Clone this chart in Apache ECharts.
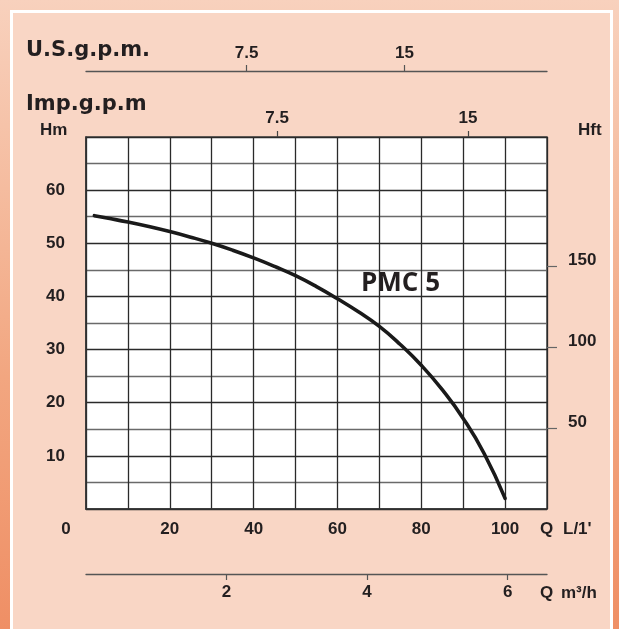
<!DOCTYPE html>
<html><head><meta charset="utf-8">
<script src="https://cdn.jsdelivr.net/npm/echarts@6/dist/echarts.min.js"></script>
<style>
html,body{margin:0;padding:0;width:619px;height:629px;overflow:hidden;
background:linear-gradient(to bottom,#f8d1bd 0%,#f5bc9f 30%,#f2a680 60%,#ef8f65 100%);}
#frame{position:absolute;left:10px;top:10px;width:603px;height:660px;box-sizing:border-box;border:3px solid #ffffff;background:#f9d6c5;}
#chart{position:absolute;left:0;top:0;width:619px;height:629px;}
</style></head>
<body>
<div id="frame"></div>
<div id="chart"></div>
<script>
// ---- data ----
const flowLpm = [2, 5, 10, 15, 20, 25, 30, 35, 40, 45, 50, 55, 60, 65, 70, 75, 80, 85, 90, 95, 100];
const headM   = [55.2, 54.75, 54.0, 53.15, 52.2, 51.15, 50.0, 48.7, 47.25, 45.65, 43.9, 41.85, 39.55, 37.1, 34.35, 30.95, 27.05, 22.45, 17.05, 10.45, 2.0];
const xLabelVals = [0, 20, 40, 60, 80, 100];
const yLabelVals = [10, 20, 30, 40, 50, 60];
const hftVals = [50, 100, 150];
const usGpmVals = [7.5, 15];
const impGpmVals = [7.5, 15];
const m3hVals = [2, 4, 6];
const seriesName = 'PMC 5';

const NARROW = "'Liberation Sans',Arial,sans-serif";
const WIDE = "'DejaVu Sans',sans-serif";
const TXT = '#231f20';
const lbl = {fontFamily: NARROW, fontSize: 17, fontWeight: 'bold', color: TXT};

const chart = echarts.init(document.getElementById('chart'), null, {renderer: 'canvas'});
const gridLine = {show: true, lineStyle: {color: '#2a2a2a', width: 1.3}};
const option = {
  animation: false,
  backgroundColor: 'transparent',
  grid: {left: 86, top: 137, width: 461, height: 372, show: true, backgroundColor: '#ffffff', borderColor: '#444', borderWidth: 1.5},
  xAxis: [
    {type: 'value', position: 'bottom', min: 0, max: 110, interval: 10,
     axisLine: {show: true, onZero: false, lineStyle: {color: '#333', width: 1.5}}, axisTick: {show: false},
     splitLine: gridLine,
     axisLabel: Object.assign({customValues: xLabelVals, margin: 12,
       formatter: v => v === 0 ? '{z|0}' : String(v),
       rich: {z: Object.assign({padding: [0, 40, 0, 0]}, lbl)}}, lbl)},
    {type: 'value', position: 'top', min: 0, max: 18.1,
     axisLine: {show: false, onZero: false}, splitLine: {show: false},
     axisTick: {show: true, customValues: impGpmVals, length: 6, lineStyle: {color: '#444', width: 1.2}},
     axisLabel: Object.assign({customValues: impGpmVals, margin: 10}, lbl)},
    {type: 'value', position: 'top', offset: 66, min: -0.14, max: 21.78,
     axisLine: {show: true, onZero: false, lineStyle: {color: '#555', width: 1.3}}, splitLine: {show: false},
     axisTick: {show: true, customValues: usGpmVals, length: 6, lineStyle: {color: '#555', width: 1.2}},
     axisLabel: Object.assign({customValues: usGpmVals, margin: 9}, lbl)},
    {type: 'value', position: 'bottom', offset: 65, min: 0, max: 6.56,
     axisLine: {show: true, onZero: false, lineStyle: {color: '#555', width: 1.3}}, splitLine: {show: false},
     axisTick: {show: true, customValues: m3hVals, length: 6, lineStyle: {color: '#555', width: 1.2}},
     axisLabel: Object.assign({customValues: m3hVals, margin: 10}, lbl)}
  ],
  yAxis: [
    {type: 'value', position: 'left', min: 0, max: 70, interval: 10,
     axisLine: {show: true, onZero: false, lineStyle: {color: '#333', width: 1.5}}, axisTick: {show: false},
     splitLine: gridLine,
     minorTick: {show: false, splitNumber: 2},
     minorSplitLine: {show: true, lineStyle: {color: '#6a6a6a', width: 1.3}},
     axisLabel: Object.assign({customValues: yLabelVals, margin: 21}, lbl)},
    {type: 'value', position: 'right', min: 0, max: 70 / 0.3048,
     axisLine: {show: false, onZero: false}, splitLine: {show: false},
     axisTick: {show: true, customValues: hftVals, length: 10, lineStyle: {color: '#666', width: 1.2}},
     axisLabel: Object.assign({customValues: hftVals, margin: 21, verticalAlign: 'bottom', lineHeight: 12}, lbl)}
  ],
  series: [{
    name: seriesName, type: 'line', xAxisIndex: 0, yAxisIndex: 0,
    data: flowLpm.map((q, i) => [q, headM[i]]),
    smooth: 0.5, symbol: 'none',
    lineStyle: {color: '#1a1a1a', width: 3.6, cap: 'round', join: 'round'}
  }],
  graphic: [
    {type: 'text', style: {x: 26, y: 51, text: 'U.S.g.p.m.', font: 'bold 21px ' + WIDE, fill: TXT, verticalAlign: 'middle'}},
    {type: 'text', style: {x: 26, y: 105, text: 'Imp.g.p.m', font: 'bold 21px ' + WIDE, fill: TXT, verticalAlign: 'middle'}},
    {type: 'text', style: {x: 40, y: 130, text: 'Hm', font: 'bold 17px ' + NARROW, fill: TXT, verticalAlign: 'middle'}},
    {type: 'text', style: {x: 578, y: 130, text: 'Hft', font: 'bold 17px ' + NARROW, fill: TXT, verticalAlign: 'middle'}},
    {type: 'text', style: {x: 540, y: 529, text: 'Q', font: 'bold 17px ' + NARROW, fill: TXT, verticalAlign: 'middle'}},
    {type: 'text', style: {x: 563, y: 529, text: "L/1'", font: 'bold 17px ' + NARROW, fill: TXT, verticalAlign: 'middle'}},
    {type: 'text', style: {x: 540, y: 593, text: 'Q', font: 'bold 17px ' + NARROW, fill: TXT, verticalAlign: 'middle'}},
    {type: 'text', style: {x: 561, y: 593, text: 'm³/h', font: 'bold 17px ' + NARROW, fill: TXT, verticalAlign: 'middle'}},
    {type: 'text', style: {x: 361, y: 284, text: seriesName, font: 'bold 26px "Open Sans",sans-serif', fill: TXT, verticalAlign: 'middle'}}
  ]
};
chart.setOption(option);
</script>
</body></html>
